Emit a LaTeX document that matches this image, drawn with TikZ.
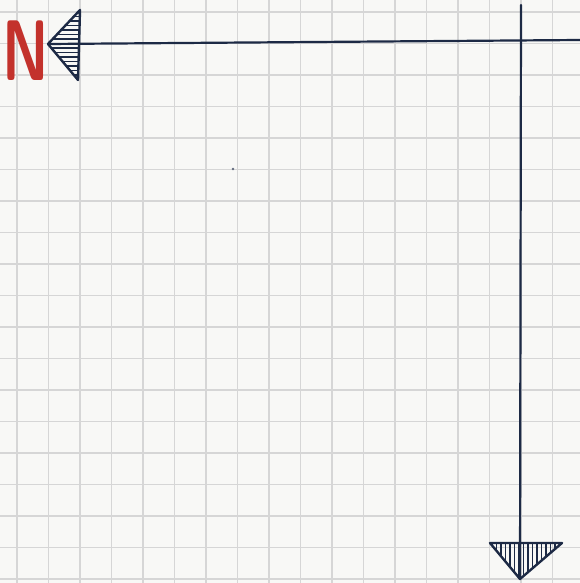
\documentclass[tikz,border=0pt]{standalone}
\begin{document}
\begin{tikzpicture}[x=1pt,y=-1pt,
  gridline/.style={draw=gridc, line width=1.7pt},
  inkline/.style={draw=ink, line width=2.2pt, line cap=round},
  hatch/.style={draw=ink, line width=1.5pt},
  headedge/.style={draw=ink, line width=2.4pt, line join=round}]
\definecolor{paper}{HTML}{F8F8F6}
\definecolor{gridc}{HTML}{D6D6D6}
\definecolor{ink}{HTML}{1D2A45}
\definecolor{nred}{HTML}{C3322C}
\fill[paper] (0,0) rectangle (580,583);
\useasboundingbox (0,0) rectangle (580,583);
% grid paper
\foreach \i in {0,...,17} \draw[gridline] ({17+31.5*\i},0) -- ++(0,583);
\foreach \j in {0,...,18} \draw[gridline] (0,{12+31.5*\j}) -- ++(580,0);
% stray dot
\fill[ink!70] (233,169) circle (1.3);
% named points
\coordinate (htip) at (48,44);
\coordinate (hend) at (580,40);
\coordinate (vtop) at (521,5);
\coordinate (vtip) at (520,579);
\coordinate (lt) at (80,10);
\coordinate (lb) at (78,80);
\coordinate (bl) at (490,543);
\coordinate (br) at (562,543);
% lines
\draw[inkline] (htip) -- (hend);
\draw[inkline] (vtop) -- (vtip);
% left arrowhead (hatched)
\begin{scope}
  \clip (htip) -- (lt) -- (lb) -- cycle;
  \foreach \k in {0,...,16} \draw[hatch] (40,{12+4.5*\k}) -- (85,{12+4.5*\k});
\end{scope}
\draw[headedge] (htip) -- (lt) -- (lb) -- cycle;
% bottom arrowhead (hatched)
\begin{scope}
  \clip (vtip) -- (bl) -- (br) -- cycle;
  \foreach \k in {0,...,16} \draw[hatch] ({492+4.5*\k},540) -- ({492+4.5*\k},582);
\end{scope}
\draw[headedge] (vtip) -- (bl) -- (br) -- cycle;
% N label
\node[text=nred, inner sep=0pt, xscale=0.68, font=\sffamily\bfseries\fontsize{86}{86}\selectfont] (nlabel) at (26,51) {N};
\end{tikzpicture}
\end{document}
